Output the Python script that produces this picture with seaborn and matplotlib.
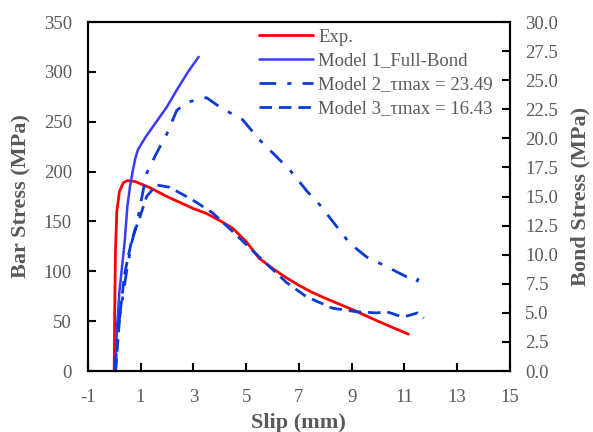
import pandas as pd
import matplotlib
matplotlib.use("Agg")
import matplotlib.pyplot as plt
import seaborn as sns

# Exp. (bar stress, MPa)
exp_slip = [0, 0.02, 0.05, 0.1, 0.2, 0.35, 0.5, 0.8, 1.35, 2.0, 3.0, 3.5, 4.0, 4.5,
            5.0, 5.5, 6.0, 6.5, 7.0, 7.5, 8.0, 9.0, 10.0, 11.15]
exp_stress = [0, 60, 120, 160, 180, 189, 191, 190, 184, 175, 163, 158, 151, 143,
              130, 113, 103, 94, 86, 79, 73, 62, 50, 37]

# Model 1 full bond (bar stress, MPa)
m1_slip = [0.05, 0.1, 0.2, 0.3, 0.4, 0.5, 0.6, 0.7, 0.8, 0.9, 1.2, 1.6, 2.0, 2.4, 2.8, 3.2]
m1_stress = [0, 40, 80, 105, 130, 165, 185, 200, 213, 222, 235, 250, 265, 283, 300, 315]

# Model 2 (bond stress, MPa)
m2_slip = [0.02, 0.2, 0.48, 0.67, 0.89, 1.08, 1.23, 1.6, 2.0, 2.37, 2.75, 3.5, 4.0,
           4.87, 5.5, 6.65, 7.33, 7.79, 8.92, 9.57, 10.44, 11.46, 11.6]
m2_bond = [0, 4.5, 8.7, 11.1, 13.0, 15.3, 17.0, 18.7, 20.4, 22.4, 23.1, 23.5, 22.7,
           21.6, 19.9, 17.3, 15.4, 14.3, 11.0, 9.8, 8.85, 7.65, 8.25]

# Model 3 (bond stress, MPa)
m3_slip = [0.06, 0.2, 0.4, 0.67, 0.97, 1.23, 1.6, 2.1, 2.98, 3.73, 4.49, 5.5, 6.54,
           7.28, 8.28, 9.19, 9.95, 10.33, 10.93, 11.2, 11.5, 11.73]
m3_bond = [0, 4.5, 8.4, 11.3, 13.2, 15.0, 16.0, 15.8, 14.7, 13.6, 12.0, 9.8, 7.6,
           6.4, 5.4, 5.1, 5.0, 5.1, 4.65, 4.8, 5.0, 4.55]

sns.set_style("white")
plt.rcParams["font.family"] = ["Liberation Serif", "DejaVu Serif"]
plt.rcParams["axes.unicode_minus"] = False
plt.rcParams["axes.axisbelow"] = False
gray = "#595959"

fig = plt.figure(figsize=(5.93, 4.32), dpi=100)
ax = fig.add_axes([0.148, 0.141, 0.712, 0.808])
ax2 = ax.twinx()

exp_df = pd.DataFrame({"slip": exp_slip, "stress": exp_stress})
m1_df = pd.DataFrame({"slip": m1_slip, "stress": m1_stress})
m2_df = pd.DataFrame({"slip": m2_slip, "bond": m2_bond})
m3_df = pd.DataFrame({"slip": m3_slip, "bond": m3_bond})

sns.lineplot(data=exp_df, x="slip", y="stress", ax=ax, sort=False, estimator=None,
             color="#ff0000", lw=2, label="Exp.", legend=False)
sns.lineplot(data=m1_df, x="slip", y="stress", ax=ax, sort=False, estimator=None,
             color="#3a3aff", lw=1.8, label="Model 1_Full-Bond", legend=False)
sns.lineplot(data=m2_df, x="slip", y="bond", ax=ax2, sort=False, estimator=None,
             color="#0a3ad6", lw=2, linestyle=(0, (6, 4, 1.5, 4)),
             label="Model 2_\u03c4max = 23.49", legend=False)
sns.lineplot(data=m3_df, x="slip", y="bond", ax=ax2, sort=False, estimator=None,
             color="#0a3ad6", lw=2, linestyle=(0, (4.5, 2.5)),
             label="Model 3_\u03c4max = 16.43", legend=False)

ax.set_xlim(-1, 15)
ax.set_ylim(0, 350)
ax2.set_ylim(0, 30)
ax.set_xticks(range(-1, 16, 2))
ax.set_yticks(range(0, 351, 50))
ax2.set_yticks([i * 2.5 for i in range(13)])
ax2.set_yticklabels([f"{i * 2.5:.1f}" for i in range(13)])

ax.xaxis.set_ticks_position("bottom")
ax.yaxis.set_ticks_position("left")
ax2.yaxis.set_ticks_position("right")
for a in (ax, ax2):
    for s in a.spines.values():
        s.set_color("black")
        s.set_linewidth(1.5)
    a.tick_params(direction="in", length=5.5, width=1.5, color="black",
                  labelcolor=gray, labelsize=13.5)
ax.tick_params(axis="x", pad=13)
ax.tick_params(axis="y", pad=11.5)
ax2.tick_params(axis="y", pad=11)

ax.set_xlabel("Slip (mm)", fontsize=16, fontweight="bold", color=gray, labelpad=5)
ax.set_ylabel("Bar Stress (MPa)", fontsize=16, fontweight="bold", color=gray, labelpad=9)
ax2.set_ylabel("Bond Stress (MPa)", fontsize=16, fontweight="bold", color=gray, labelpad=9)

h1, lab1 = ax.get_legend_handles_labels()
h2, lab2 = ax2.get_legend_handles_labels()
leg = ax2.legend(h1 + h2, lab1 + lab2, loc="upper left", bbox_to_anchor=(251 / 593, 1 - 21 / 432),
                 bbox_transform=fig.transFigure, frameon=False, fontsize=13.5,
                 handlelength=2.9, handletextpad=0.3, labelspacing=0.36, borderaxespad=0)
for t in leg.get_texts():
    t.set_color(gray)

fig.savefig("out.png", dpi=100)
